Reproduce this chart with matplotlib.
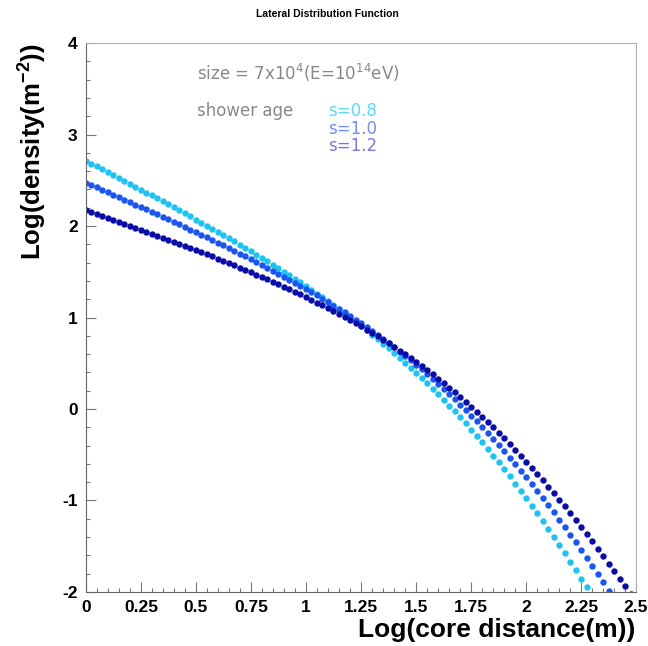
import matplotlib
matplotlib.use("Agg")
import matplotlib.pyplot as plt
from matplotlib.ticker import MultipleLocator

plt.rcParams['font.family'] = ['Liberation Sans', 'DejaVu Sans']
plt.rcParams['axes.unicode_minus'] = False
plt.rcParams['mathtext.fontset'] = 'custom'
plt.rcParams['mathtext.rm'] = 'DejaVu Sans'
plt.rcParams['mathtext.bf'] = 'Liberation Sans:bold'

# log10 of core distance (m), shared sampling of the three curves
log_r = [0.0, 0.025, 0.05, 0.075, 0.1, 0.125, 0.15, 0.175, 0.2, 0.225,
         0.25, 0.275, 0.3, 0.325, 0.35, 0.375, 0.4, 0.425, 0.45, 0.475,
         0.5, 0.525, 0.55, 0.575, 0.6, 0.625, 0.65, 0.675, 0.7, 0.725,
         0.75, 0.775, 0.8, 0.825, 0.85, 0.875, 0.9, 0.925, 0.95, 0.975,
         1.0, 1.025, 1.05, 1.075, 1.1, 1.125, 1.15, 1.175, 1.2, 1.225,
         1.25, 1.275, 1.3, 1.325, 1.35, 1.375, 1.4, 1.425, 1.45, 1.475,
         1.5, 1.525, 1.55, 1.575, 1.6, 1.625, 1.65, 1.675, 1.7, 1.725,
         1.75, 1.775, 1.8, 1.825, 1.85, 1.875, 1.9, 1.925, 1.95, 1.975,
         2.0, 2.025, 2.05, 2.075, 2.1, 2.125, 2.15, 2.175, 2.2, 2.225,
         2.25, 2.275, 2.3, 2.325, 2.35, 2.375, 2.4, 2.425, 2.45, 2.475, 2.5]

# log10 density, shower age s=0.8
dens_08 = [2.714, 2.683, 2.652, 2.620, 2.589, 2.557, 2.526, 2.494, 2.462, 2.431,
           2.399, 2.366, 2.334, 2.302, 2.269, 2.237, 2.204, 2.171, 2.138, 2.105,
           2.071, 2.038, 2.004, 1.970, 1.936, 1.901, 1.866, 1.831, 1.796, 1.760,
           1.724, 1.688, 1.651, 1.614, 1.577, 1.539, 1.501, 1.462, 1.423, 1.384,
           1.344, 1.303, 1.262, 1.220, 1.178, 1.135, 1.091, 1.047, 1.002, 0.956,
           0.910, 0.862, 0.814, 0.765, 0.715, 0.664, 0.613, 0.560, 0.506, 0.451,
           0.396, 0.339, 0.281, 0.222, 0.161, 0.100, 0.037, -0.027, -0.092, -0.158,
           -0.226, -0.295, -0.365, -0.437, -0.510, -0.584, -0.660, -0.737, -0.815, -0.894,
           -0.975, -1.058, -1.141, -1.226, -1.312, -1.399, -1.488, -1.578, -1.669, -1.761,
           -1.854, -1.949, -2.044]

# s=1.0
dens_10 = [2.473, 2.447, 2.421, 2.394, 2.368, 2.342, 2.315, 2.289, 2.262, 2.235,
           2.208, 2.181, 2.154, 2.127, 2.100, 2.072, 2.045, 2.017, 1.989, 1.961,
           1.933, 1.904, 1.876, 1.847, 1.818, 1.788, 1.759, 1.729, 1.699, 1.669,
           1.638, 1.607, 1.576, 1.544, 1.512, 1.480, 1.447, 1.414, 1.380, 1.346,
           1.312, 1.277, 1.241, 1.205, 1.168, 1.131, 1.093, 1.055, 1.016, 0.976,
           0.935, 0.894, 0.851, 0.808, 0.765, 0.720, 0.674, 0.628, 0.580, 0.532,
           0.483, 0.432, 0.381, 0.328, 0.275, 0.220, 0.164, 0.107, 0.049, -0.011,
           -0.072, -0.134, -0.197, -0.261, -0.327, -0.394, -0.462, -0.531, -0.602, -0.674,
           -0.747, -0.821, -0.897, -0.974, -1.052, -1.131, -1.211, -1.293, -1.376, -1.459,
           -1.544, -1.630, -1.717, -1.806, -1.895, -1.985]

# s=1.2
dens_12 = [2.175, 2.154, 2.133, 2.112, 2.090, 2.069, 2.048, 2.026, 2.005, 1.983,
           1.961, 1.939, 1.917, 1.895, 1.873, 1.851, 1.828, 1.806, 1.783, 1.760,
           1.737, 1.714, 1.690, 1.667, 1.643, 1.619, 1.595, 1.570, 1.545, 1.520,
           1.495, 1.469, 1.443, 1.417, 1.391, 1.364, 1.336, 1.309, 1.281, 1.252,
           1.223, 1.194, 1.164, 1.133, 1.102, 1.071, 1.038, 1.006, 0.972, 0.938,
           0.903, 0.868, 0.832, 0.795, 0.757, 0.719, 0.679, 0.639, 0.598, 0.556,
           0.513, 0.469, 0.424, 0.378, 0.331, 0.283, 0.234, 0.183, 0.132, 0.079,
           0.026, -0.029, -0.085, -0.142, -0.200, -0.260, -0.321, -0.382, -0.445, -0.510,
           -0.575, -0.642, -0.709, -0.778, -0.848, -0.919, -0.992, -1.065, -1.139, -1.215,
           -1.291, -1.369, -1.447, -1.527, -1.607, -1.689, -1.771, -1.854, -1.938, -2.023]

ages = ['s=0.8', 's=1.0', 's=1.2']
curves = [dens_08, dens_10, dens_12]
dot_colors = ['#1ec3f2', '#1a55f0', '#0a0ca8']
label_colors = ['#5fd6f5', '#7090f2', '#7c78dc']
xticks = [0, 0.25, 0.5, 0.75, 1, 1.25, 1.5, 1.75, 2, 2.25, 2.5]
xtick_labels = ['0', '0.25', '0.5', '0.75', '1', '1.25', '1.5', '1.75', '2', '2.25', '2.5']

fig = plt.figure(figsize=(6.48, 6.46), dpi=100)
ax = fig.add_axes([0.1327, 0.0836, 0.8488, 0.8498])

for dens, col in zip(curves, dot_colors):
    ax.plot(log_r[:len(dens)], dens, 'o', color=col, ms=4.6, mew=0)

ax.set_xlim(0, 2.5)
ax.set_ylim(-2, 4)
ax.set_xticks(xticks)
ax.set_xticklabels(xtick_labels)
ax.xaxis.set_minor_locator(MultipleLocator(0.05))
ax.yaxis.set_major_locator(MultipleLocator(1))
ax.yaxis.set_minor_locator(MultipleLocator(0.2))
ax.tick_params(which='both', direction='in', top=False, right=False, color='#777777')
ax.tick_params(which='major', length=7, width=0.8, labelsize=12.5, pad=6)
ax.tick_params(which='minor', length=3, width=0.8)
for lab in ax.get_xticklabels() + ax.get_yticklabels():
    lab.set_fontweight('bold')

for side in ['left', 'bottom']:
    ax.spines[side].set_color('#666666')
for side in ['top', 'right']:
    ax.spines[side].set_color('#aaaaaa')
    ax.spines[side].set_linewidth(0.7)

fig.text(0.505, 0.978, 'Lateral Distribution Function', ha='center', va='center',
         fontsize=7.5, fontweight='bold')
fig.text(0.048, 0.933, r'Log(density(m$^{\mathbf{-2}}$))', rotation=90, ha='center', va='top',
         fontsize=18.5, fontweight='bold')
fig.text(0.981, 0.014, 'Log(core distance(m))', ha='right', va='baseline',
         fontsize=19, fontweight='bold')

fig.text(0.304, 0.887, r'size = 7x10$^{4}$(E=10$^{14}$eV)', ha='left', va='center',
         fontsize=12, color='#888888', family='DejaVu Sans')
fig.text(0.304, 0.828, 'shower age', ha='left', va='center', fontsize=12,
         color='#888888', family='DejaVu Sans')
for k, (txt, col) in enumerate(zip(ages, label_colors)):
    fig.text(0.506, 0.828 - k * 0.027, txt, ha='left', va='center', fontsize=12,
             color=col, family='DejaVu Sans')

fig.savefig('out.png', dpi=100)
